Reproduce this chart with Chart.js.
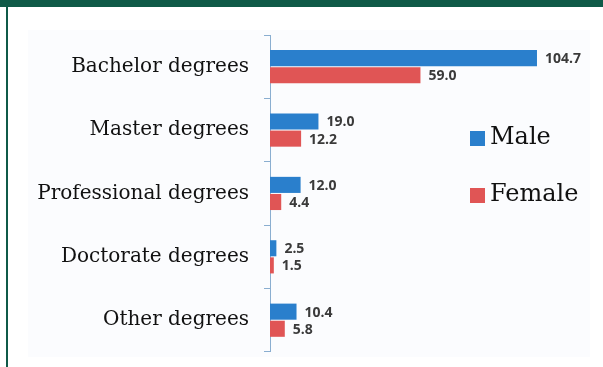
<!DOCTYPE html>
<html>
<head>
<meta charset="utf-8">
<script src="https://cdn.jsdelivr.net/npm/chart.js@4"></script>
<style>
  html, body { margin: 0; padding: 0; background: #fff; }
  #frame {
    position: relative;
    width: 603px;
    height: 367px;
    overflow: hidden;
    background: #fff;
  }
  #topbar { position: absolute; left: 0; top: 0; width: 603px; height: 7px; background: #0f5a48; }
  #leftbar { position: absolute; left: 6px; top: 0; width: 2px; height: 367px; background: #0f5a48; }
  #panel { position: absolute; left: 28px; top: 30px; width: 562px; height: 327px; background: #fbfcfe; }
  #chart { position: absolute; left: 0; top: 0; }
</style>
</head>
<body>
<div id="frame">
  <div id="topbar"></div>
  <div id="leftbar"></div>
  <div id="panel"></div>
  <canvas id="chart" width="603" height="367"></canvas>
</div>
<script>
// degrees awarded, by type
const categories = ["Bachelor degrees", "Master degrees", "Professional degrees", "Doctorate degrees", "Other degrees"];
const maleValues = [104.7, 19.0, 12.0, 2.5, 10.4];
const femaleValues = [59.0, 12.2, 4.4, 1.5, 5.8];
const seriesNames = ["Male", "Female"];

const BLUE = "#2a7fcc";
const RED = "#e05555";

// value labels at the end of each bar
const barLabels = {
  id: "barLabels",
  afterDatasetsDraw(chart) {
    const ctx = chart.ctx;
    ctx.save();
    ctx.font = "bold 14px 'Open Sans'";
    ctx.fillStyle = "#3a3a3a";
    ctx.textBaseline = "middle";
    ctx.textAlign = "left";
    chart.data.datasets.forEach((ds, i) => {
      chart.getDatasetMeta(i).data.forEach((bar, j) => {
        ctx.fillText(ds.data[j].toFixed(1), bar.x + 8, bar.y + 1);
      });
    });
    ctx.restore();
  }
};

// legend sitting inside the plot, right side
const sideLegend = {
  id: "sideLegend",
  afterDraw(chart) {
    const ctx = chart.ctx;
    ctx.save();
    ctx.font = "24px 'DejaVu Serif'";
    ctx.textBaseline = "middle";
    chart.data.datasets.forEach((ds, i) => {
      const y = 138 + i * 57;
      ctx.fillStyle = ds.backgroundColor;
      ctx.fillRect(470, y - 7, 15, 15);
      ctx.fillStyle = "#111";
      ctx.fillText(ds.label, 490, y);
    });
    ctx.restore();
  }
};

new Chart(document.getElementById("chart"), {
  type: "bar",
  data: {
    labels: categories,
    datasets: [
      { label: seriesNames[0], data: maleValues, backgroundColor: BLUE },
      { label: seriesNames[1], data: femaleValues, backgroundColor: RED }
    ]
  },
  options: {
    indexAxis: "y",
    responsive: false,
    animation: false,
    events: [],
    categoryPercentage: 0.54,
    barPercentage: 0.94,
    layout: { padding: { top: 35, bottom: 0, right: 27, left: 0 } },
    plugins: {
      legend: { display: false },
      tooltip: { enabled: false }
    },
    scales: {
      x: { display: false, min: 0, max: 120 },
      y: {
        afterFit(scale) { scale.width = 270; },
        border: { color: "#8aaed0", width: 1 },
        grid: { offset: true, drawOnChartArea: false, tickLength: 6, color: "#8aaed0" },
        ticks: {
          padding: 15,
          color: "#111",
          font: { family: "'DejaVu Serif'", size: 20, lineHeight: 0.01 }
        }
      }
    }
  },
  plugins: [barLabels, sideLegend]
});
</script>
</body>
</html>
